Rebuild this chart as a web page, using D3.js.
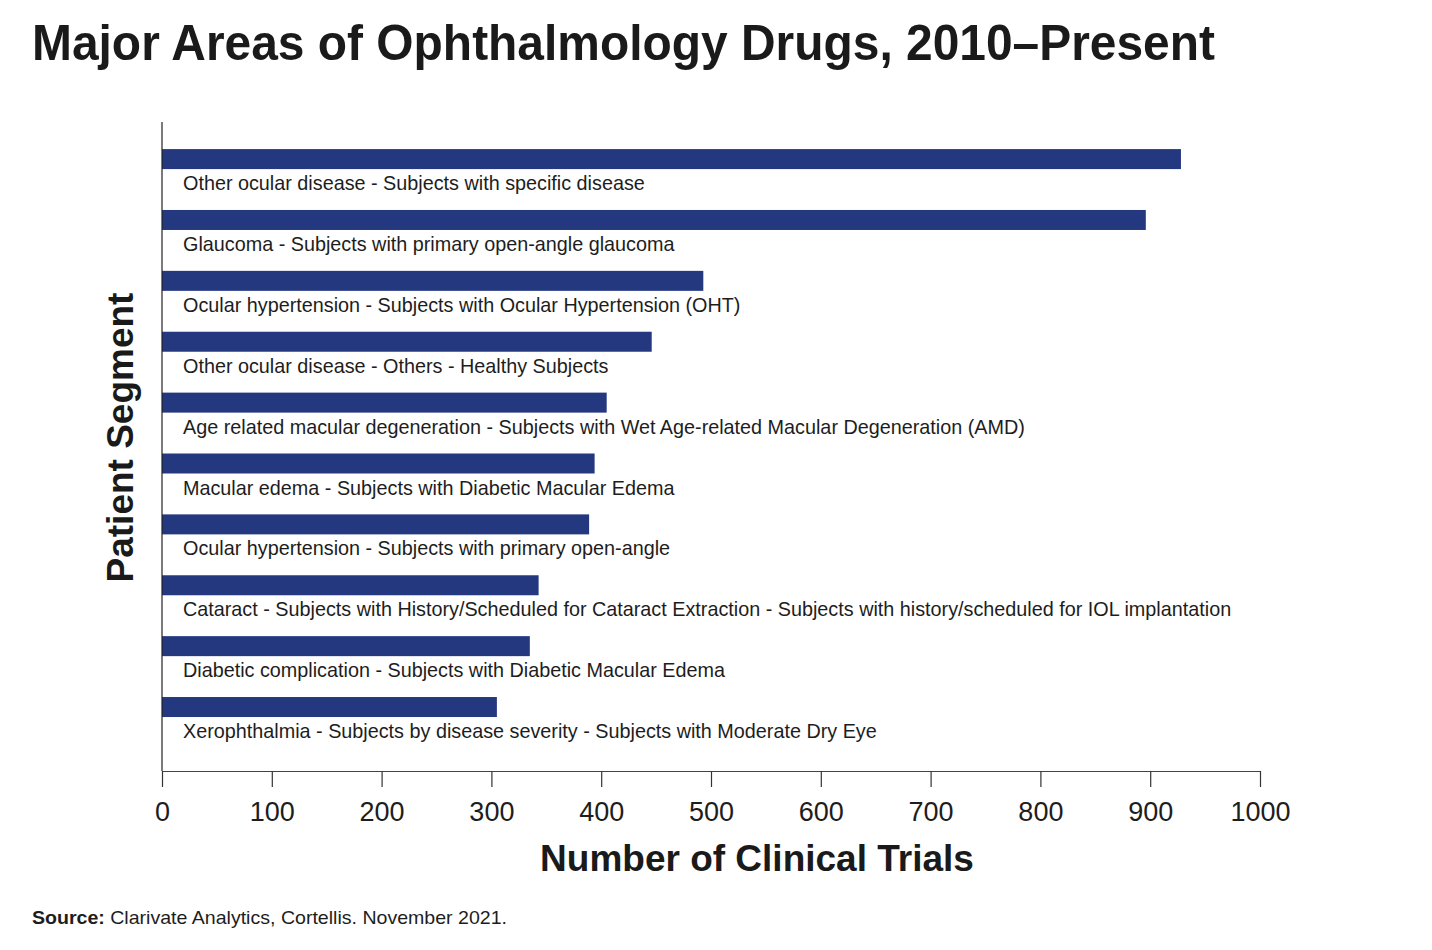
<!DOCTYPE html>
<html>
<head>
<meta charset="utf-8">
<script src="https://cdn.jsdelivr.net/npm/d3@7"></script>
<style>
  body { margin: 0; background: #fff; }
  svg text { font-family: "Liberation Sans", Arial, Helvetica, sans-serif; fill: #1d1d1d; }
</style>
</head>
<body>
<div id="chart"></div>
<script>
// patient segments, top to bottom
var segments = [
  "Other ocular disease - Subjects with specific disease",
  "Glaucoma - Subjects with primary open-angle glaucoma",
  "Ocular hypertension - Subjects with Ocular Hypertension (OHT)",
  "Other ocular disease - Others - Healthy Subjects",
  "Age related macular degeneration - Subjects with Wet Age-related Macular Degeneration (AMD)",
  "Macular edema - Subjects with Diabetic Macular Edema",
  "Ocular hypertension - Subjects with primary open-angle",
  "Cataract - Subjects with History/Scheduled for Cataract Extraction - Subjects with history/scheduled for IOL implantation",
  "Diabetic complication - Subjects with Diabetic Macular Edema",
  "Xerophthalmia - Subjects by disease severity - Subjects with Moderate Dry Eye"
];
// number of clinical trials per segment
var trials = [928, 896, 493, 446, 405, 394, 389, 343, 335, 305];
var xTicks = [0, 100, 200, 300, 400, 500, 600, 700, 800, 900, 1000];

var W = 1432, H = 950;
var margin = {left: 162, right: 172, top: 122, bottom: 179};

var svg = d3.select("#chart").append("svg")
    .attr("width", W)
    .attr("height", H);

var x = d3.scaleLinear()
    .domain([0, 1000])
    .range([margin.left, W - margin.right]);

var y = d3.scaleBand()
    .domain(segments)
    .range([margin.top, H - margin.bottom])
    .paddingInner(0)
    .paddingOuter(0.33);

var barH = 20;

// title
svg.append("text")
    .attr("x", 32)
    .attr("y", 60)
    .attr("textLength", 1183)
    .attr("lengthAdjust", "spacingAndGlyphs")
    .style("font-size", "50px")
    .style("font-weight", "bold")
    .style("fill", "#1a1a1a")
    .text("Major Areas of Ophthalmology Drugs, 2010\u2013Present");

// bars
svg.append("g")
    .selectAll("rect")
    .data(segments)
    .enter().append("rect")
    .attr("x", x(0))
    .attr("y", function(d) { return y(d) + 7; })
    .attr("width", function(d, i) { return x(trials[i]) - x(0); })
    .attr("height", barH)
    .attr("fill", "#24387f");

// segment labels under bars
svg.append("g")
    .selectAll("text")
    .data(segments)
    .enter().append("text")
    .attr("x", x(0) + 21)
    .attr("y", function(d) { return y(d) + 48; })
    .style("font-size", "19.8px")
    .text(function(d) { return d; });

// y axis line
svg.append("line")
    .attr("x1", x(0)).attr("x2", x(0))
    .attr("y1", margin.top).attr("y2", H - margin.bottom)
    .attr("stroke", "#222")
    .attr("stroke-width", 1.2);

// x axis
var xAxis = svg.append("g")
    .attr("transform", "translate(0," + (H - margin.bottom) + ")")
    .call(d3.axisBottom(x).tickValues(xTicks).tickSize(16).tickSizeOuter(0).tickFormat(d3.format("d")));

xAxis.select(".domain").attr("stroke", "#444").attr("stroke-width", 1.2);
xAxis.selectAll(".tick line").attr("stroke", "#333").attr("stroke-width", 1.2);
xAxis.selectAll(".tick text")
    .attr("y", 50)
    .attr("dy", 0)
    .style("font-family", "'Liberation Sans', Arial, sans-serif")
    .style("font-size", "27px")
    .style("fill", "#1d1d1d");

// axis titles
svg.append("text")
    .attr("x", 757)
    .attr("y", 871)
    .attr("text-anchor", "middle")
    .style("font-size", "37px")
    .style("font-weight", "bold")
    .style("fill", "#1a1a1a")
    .text("Number of Clinical Trials");

svg.append("text")
    .attr("transform", "translate(133," + 437.5 + ") rotate(-90)")
    .attr("text-anchor", "middle")
    .style("font-size", "37px")
    .style("font-weight", "bold")
    .style("fill", "#1a1a1a")
    .text("Patient Segment");

// source note
var src = svg.append("text")
    .attr("x", 32)
    .attr("y", 924)
    .attr("textLength", 475)
    .attr("lengthAdjust", "spacingAndGlyphs")
    .style("font-size", "19px");
src.append("tspan").style("font-weight", "bold").text("Source:");
src.append("tspan").text(" Clarivate Analytics, Cortellis. November 2021.");
</script>
</body>
</html>
